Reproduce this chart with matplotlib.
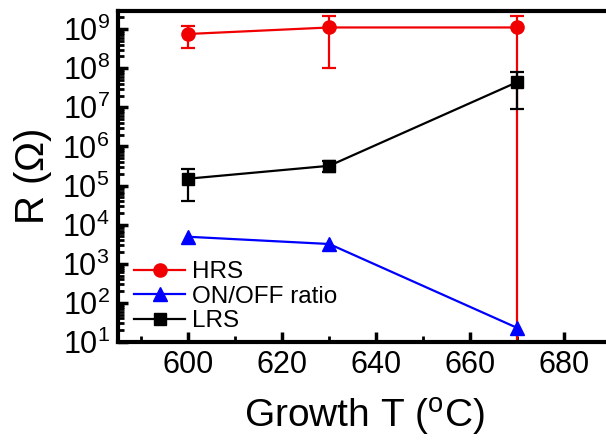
import matplotlib
matplotlib.use("Agg")
import matplotlib.pyplot as plt
from matplotlib.lines import Line2D
from matplotlib.ticker import LogLocator, MultipleLocator, NullFormatter

plt.rcParams["font.family"] = ["Liberation Sans", "DejaVu Sans"]
plt.rcParams["mathtext.fontset"] = "custom"
plt.rcParams["mathtext.rm"] = "Liberation Sans"
plt.rcParams["mathtext.it"] = "Liberation Sans:italic"
plt.rcParams["mathtext.bf"] = "Liberation Sans:bold"

# Growth temperatures (deg C)
temps = [600, 630, 670]

# High-resistance state and its error bars (ohm)
hrs = [7.5e8, 1.1e9, 1.1e9]
hrs_err = [4.2e8, 1.0e9, 1.1e9]

# Low-resistance state and its error bars (ohm)
lrs = [1.5e5, 3.2e5, 4.4e7]
lrs_err = [1.1e5, 1.0e5, 3.5e7]

# ON/OFF ratio
ratio = [4.9e3, 3.2e3, 23]

RED, BLUE, BLACK = "#f00000", "#0000ff", "black"

fig = plt.figure(figsize=(6.06, 4.43), dpi=100)
ax = fig.add_axes([118 / 606, 101 / 443, 493 / 606, 331 / 443])

ax.errorbar(temps, hrs, yerr=hrs_err, color=RED, marker="o", ms=9.5,
            lw=1.6, capsize=5, capthick=1.6, elinewidth=1.6)
ax.plot(temps, ratio, color=BLUE, marker="^", ms=9.5, lw=1.6)
ax.errorbar(temps, lrs, yerr=lrs_err, color=BLACK, marker="s", ms=8,
            lw=1.6, capsize=5, capthick=1.6, elinewidth=1.6)

ax.set_yscale("log")
ax.set_ylim(10, 2.9e9)
ax.set_xlim(585, 690)

ax.xaxis.set_major_locator(MultipleLocator(20))
ax.xaxis.set_minor_locator(MultipleLocator(10))
ax.yaxis.set_major_locator(LogLocator(base=10, numticks=20))
ax.yaxis.set_minor_locator(LogLocator(base=10, subs=range(2, 10), numticks=20))
ax.yaxis.set_minor_formatter(NullFormatter())

for side in ("left", "bottom", "top"):
    ax.spines[side].set_linewidth(3)
ax.spines["right"].set_visible(False)

ax.tick_params(which="major", direction="in", length=7, width=2.5,
               labelsize=22, top=False, right=False, pad=6)
ax.tick_params(which="minor", direction="in", length=4, width=2,
               top=False, right=False)

ax.set_xlabel("Growth T ($^{\\mathrm{o}}$C)", fontsize=28, labelpad=11)
ax.set_ylabel("R ($\\Omega$)", fontsize=29, labelpad=6)

handles = [
    Line2D([], [], color=RED, marker="o", ms=9.5, lw=1.6),
    Line2D([], [], color=BLUE, marker="^", ms=9.5, lw=1.6),
    Line2D([], [], color=BLACK, marker="s", ms=8, lw=1.6),
]
labels = ["HRS", "ON/OFF ratio", "LRS"]
ax.legend(handles, labels, loc="lower left", frameon=False, fontsize=17.5,
          handlelength=2.1, labelspacing=0.1, handletextpad=0.3,
          borderaxespad=0.0, bbox_to_anchor=(0.013, 0.0))

fig.savefig("out.png", dpi=100)
